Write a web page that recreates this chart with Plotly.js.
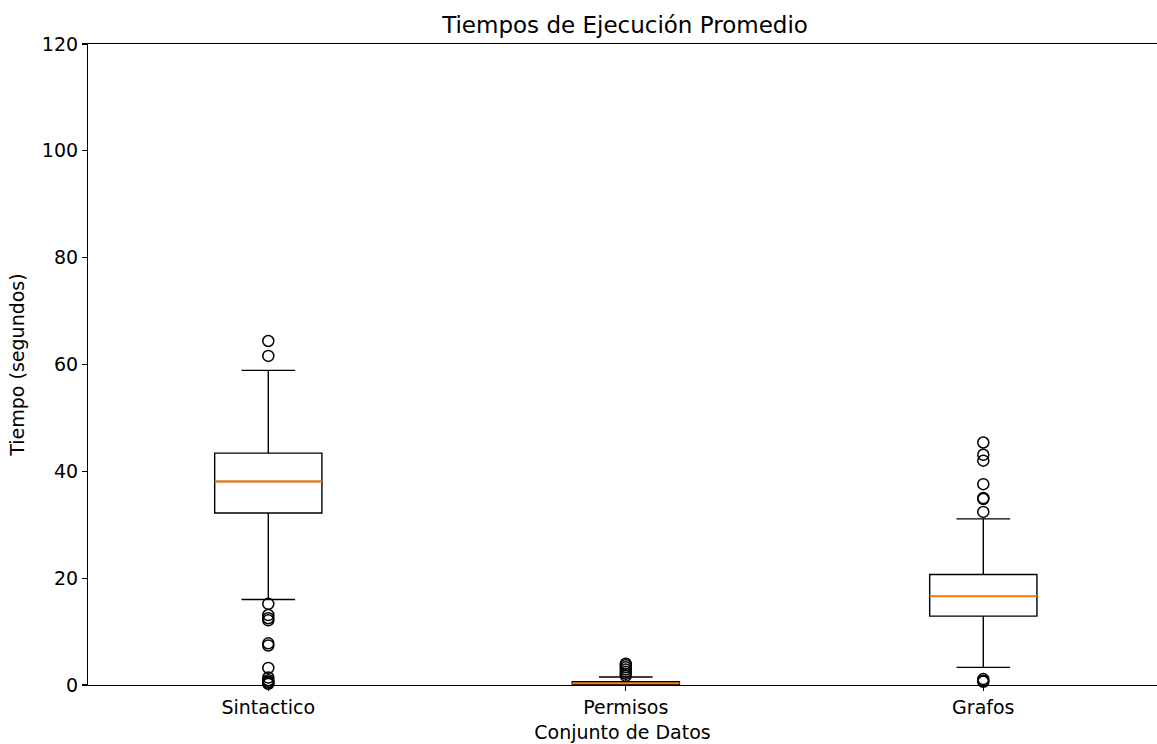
<!DOCTYPE html>
<html>
<head>
<meta charset="utf-8">
<script src="https://cdn.plot.ly/plotly-3.0.1.min.js"></script>
<style>
  html, body { margin: 0; padding: 0; background: #fff; overflow: hidden; }
  #chart { width: 1157px; height: 744px; display: block; }
</style>
</head>
<body>
<div id="chart"></div>
<script>
// Execution-time summaries per dataset (seconds)
const categories = ["Sintactico", "Permisos", "Grafos"];
const positions = [1, 2, 3];

const q1Values = [32.2, 0.15, 12.9];
const medianValues = [38.1, 0.35, 16.6];
const q3Values = [43.4, 0.6, 20.7];
const lowerWhisker = [16.0, 0.02, 3.3];
const upperWhisker = [58.9, 1.5, 31.1];

const outliersSintactico = [64.4, 61.6, 15.2, 13.1, 12.5, 12.1, 7.8, 7.4, 3.2, 1.4, 0.9, 0.6, 0.4, 0.2];
const outliersPermisos = [1.7, 2.1, 2.5, 2.9, 3.3, 3.7, 4.0];
const outliersGrafos = [45.4, 43.1, 42.0, 37.6, 35.0, 34.8, 32.4, 1.1, 0.8, 0.6];

const yTickValues = [0, 20, 40, 60, 80, 100, 120];

const boxWidth = 0.3;
const FONT = "DejaVu Sans, sans-serif";
const LABEL_SIZE = 19;
const TITLE_SIZE = 23;

const traces = [];

// Boxes and whiskers from the precomputed statistics
traces.push({
  type: "box",
  x: positions,
  q1: q1Values,
  median: medianValues,
  q3: q3Values,
  lowerfence: lowerWhisker,
  upperfence: upperWhisker,
  width: boxWidth,
  whiskerwidth: 0.5,
  fillcolor: "rgba(255,255,255,0)",
  line: { color: "#000000", width: 1.4 },
  boxpoints: false,
  hoverinfo: "skip",
  showlegend: false
});

// Orange median lines drawn across each box
positions.forEach((p, i) => {
  traces.push({
    type: "scatter",
    mode: "lines",
    x: [p - boxWidth / 2, p + boxWidth / 2],
    y: [medianValues[i], medianValues[i]],
    line: { color: "#ff7f0e", width: 2 },
    hoverinfo: "skip",
    showlegend: false
  });
});

// Flier points
const outlierSets = [outliersSintactico, outliersPermisos, outliersGrafos];
outlierSets.forEach((vals, i) => {
  traces.push({
    type: "scatter",
    mode: "markers",
    x: vals.map(() => positions[i]),
    y: vals,
    marker: {
      symbol: "circle-open",
      size: 11,
      color: "#000000",
      line: { color: "#000000", width: 1.5 }
    },
    cliponaxis: false,
    hoverinfo: "y",
    showlegend: false
  });
});

const W = 1157, H = 744;
const plotLeft = 88, plotTop = 44, plotBottom = 685;
// category spacing ~357.5 px; first category sits ~180 px right of the y axis,
// and the visible span stops just short of the right limit
const unitPx = 357.5;
const xMin = 1 - 180.3 / unitPx;
const xMax = xMin + (W - plotLeft) / unitPx;

const layout = {
  width: W,
  height: H,
  paper_bgcolor: "#ffffff",
  plot_bgcolor: "#ffffff",
  margin: { l: plotLeft, r: 0, t: plotTop, b: H - plotBottom, pad: 0 },
  font: { family: FONT, size: LABEL_SIZE, color: "#000000" },
  title: {
    text: "Tiempos de Ejecución Promedio",
    font: { family: FONT, size: TITLE_SIZE, color: "#000000" },
    x: 625 / W,
    xref: "container",
    xanchor: "center",
    y: 1 - 25 / H,
    yref: "container",
    yanchor: "middle"
  },
  xaxis: {
    range: [xMin, xMax],
    tickmode: "array",
    tickvals: positions,
    ticktext: categories,
    ticks: "outside",
    ticklen: 5,
    tickwidth: 1.1,
    tickcolor: "#000000",
    showline: true,
    linecolor: "#000000",
    linewidth: 1.1,
    mirror: true,
    showgrid: false,
    zeroline: false,
    automargin: false,
    tickfont: { family: FONT, size: LABEL_SIZE, color: "#000000" },
    title: {
      text: "Conjunto de Datos",
      font: { family: FONT, size: LABEL_SIZE, color: "#000000" },
      standoff: 8
    }
  },
  yaxis: {
    range: [0, 120],
    tickmode: "array",
    tickvals: yTickValues,
    ticktext: yTickValues.map(String),
    ticks: "outside",
    ticklen: 5,
    tickwidth: 1.1,
    tickcolor: "#000000",
    showline: true,
    linecolor: "#000000",
    linewidth: 1.1,
    mirror: false,
    showgrid: false,
    zeroline: false,
    automargin: false,
    tickfont: { family: FONT, size: LABEL_SIZE, color: "#000000" },
    title: {
      text: "Tiempo (segundos)",
      font: { family: FONT, size: LABEL_SIZE, color: "#000000" },
      standoff: 12
    }
  },
  showlegend: false
};

Plotly.newPlot("chart", traces, layout, { displayModeBar: false, staticPlot: true });
</script>
</body>
</html>
